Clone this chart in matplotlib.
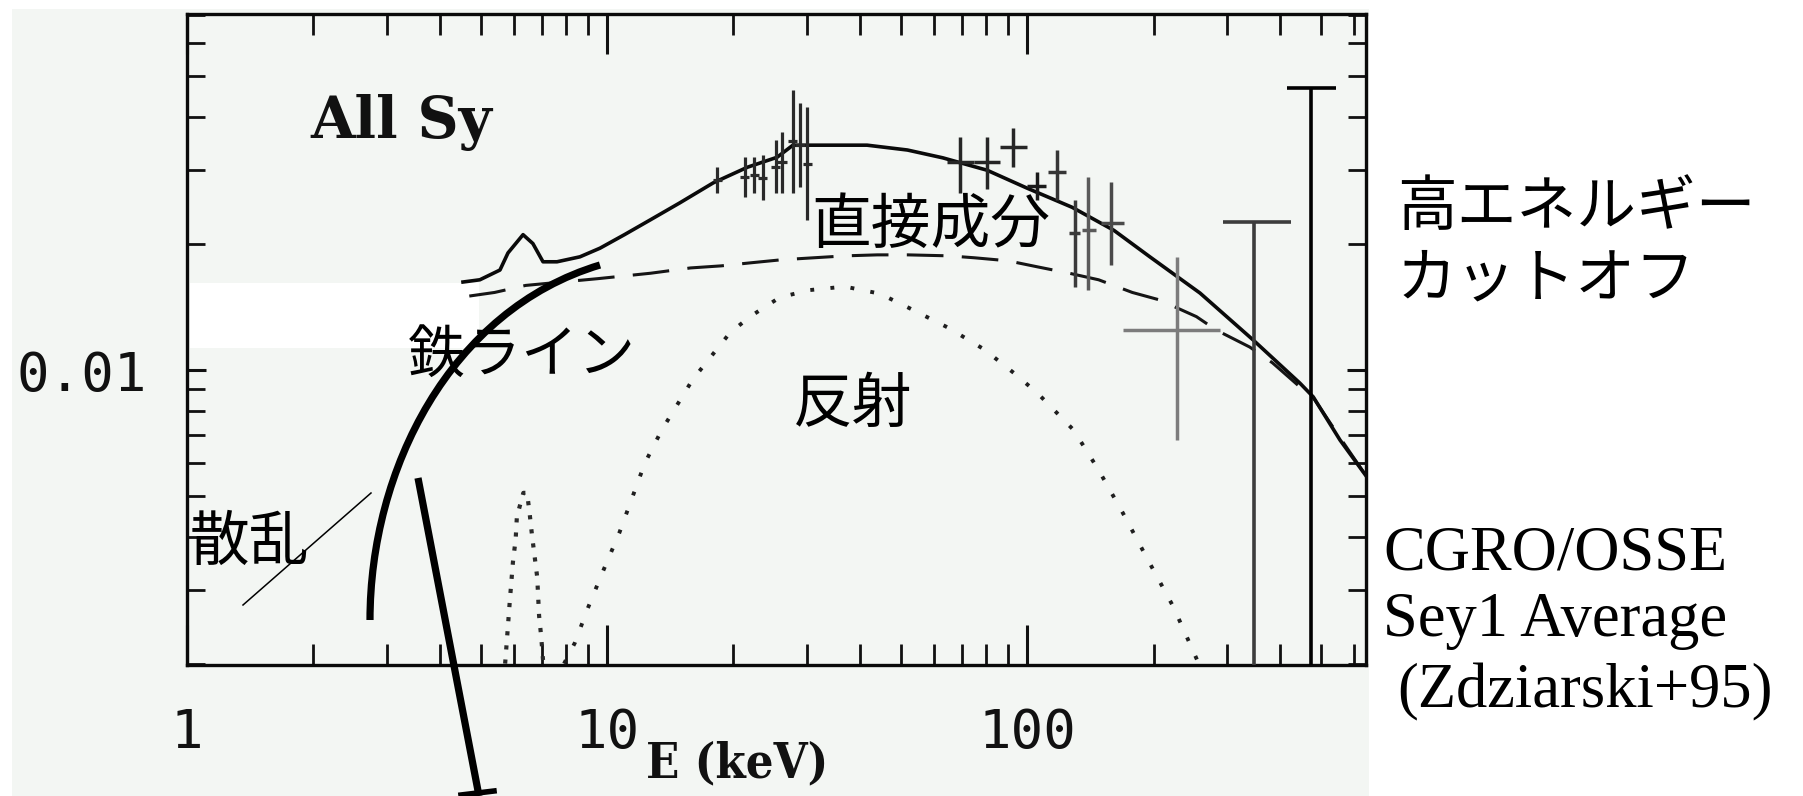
import matplotlib
matplotlib.use("Agg")
import matplotlib.pyplot as plt
from matplotlib.patches import Rectangle, PathPatch
from matplotlib.path import Path
from matplotlib.lines import Line2D
from matplotlib.ticker import FixedLocator, NullFormatter

W, H = 1803, 796

# ---------------- spectrum data (E in keV, E*F_E) ----------------
# total model
model_E = [4.54, 4.98, 5.56, 5.81, 6.31, 6.66, 7.04, 7.60, 8.62, 9.62, 11.0, 12.7,
           14.9, 17.9, 21.6, 25.4, 27.7, 30.4, 34.0, 41.6, 51.9, 63.0, 80.3, 100,
           128, 161, 196, 258, 345, 446, 480, 556, 641]
model_F = [0.0162, 0.0164, 0.0173, 0.0190, 0.0210, 0.0200, 0.0181, 0.0181, 0.0186,
           0.0195, 0.0210, 0.0228, 0.0250, 0.0279, 0.0304, 0.0321, 0.0343, 0.0343,
           0.0343, 0.0343, 0.0334, 0.0320, 0.0299, 0.0271, 0.0244, 0.0215, 0.0186,
           0.01525, 0.0118, 0.00931, 0.00863, 0.00681, 0.0056]

# direct (cut-off power law) component
direct_E = [4.7, 5.4, 6.4, 7.3, 9.5, 12.7, 15.8, 18.7, 22, 26, 31, 37, 44, 52, 65,
            75, 90, 106, 126, 148, 178, 206, 253, 282, 339, 384, 455, 480, 556, 641]
direct_F = [0.0150, 0.0153, 0.0159, 0.0161, 0.0165, 0.0170, 0.0175, 0.0177, 0.0180,
            0.0183, 0.0185, 0.0187, 0.0188, 0.0188, 0.0187, 0.0185, 0.0182, 0.0176,
            0.0170, 0.0164, 0.0153, 0.0147, 0.0134, 0.01245, 0.01134, 0.0104,
            0.00896, 0.0086, 0.0069, 0.0056]

# Compton reflection component
refl_E = [7.9, 8.38, 9.0, 9.77, 10.7, 12.3, 13.5, 16.0, 19.6, 21.9, 25.8, 30.4,
          36.8, 44.6, 52, 65, 79, 93, 106, 129, 148, 169, 194, 223, 254]
refl_F = [0.0020, 0.00224, 0.00271, 0.00331, 0.0041, 0.0060, 0.0072, 0.0095,
          0.01225, 0.0134, 0.0149, 0.0155, 0.0158, 0.0152, 0.0141, 0.0126, 0.0112,
          0.00984, 0.0088, 0.0072, 0.00578, 0.00457, 0.00353, 0.00273, 0.00204]

# Fe K line
line_E = [5.72, 5.87, 5.97, 6.06, 6.10, 6.32, 6.45, 6.54, 6.63, 6.82, 6.89, 6.97, 7.04]
line_F = [0.0020, 0.00283, 0.00349, 0.00396, 0.00447, 0.0051, 0.0051, 0.00457,
          0.00403, 0.00321, 0.0026, 0.00232, 0.00204]

# Ginga points
ginga_E = [18.3, 21.3, 22.4, 23.5, 25.2, 26.1, 27.7, 28.8, 30.0]
ginga_F = [0.0283, 0.0288, 0.0291, 0.0287, 0.0305, 0.0312, 0.0350, 0.0343, 0.0310]
ginga_lo = [0.0264, 0.0258, 0.0264, 0.0254, 0.0264, 0.0264, 0.0264, 0.0273, 0.0228]
ginga_hi = [0.0304, 0.0321, 0.0321, 0.0325, 0.0353, 0.0369, 0.0464, 0.0432, 0.0423]

# OSSE points
osse_E = [69.2, 80.3, 92.6, 105.6, 118, 130, 140, 158, 228]
osse_F = [0.0313, 0.0313, 0.0340, 0.0274, 0.0296, 0.0212, 0.0215, 0.0224, 0.01245]
osse_lo = [0.0264, 0.0270, 0.0304, 0.0254, 0.0254, 0.0158, 0.0155, 0.0178, 0.00681]
osse_hi = [0.0358, 0.0358, 0.0377, 0.0296, 0.0334, 0.0254, 0.0288, 0.0280, 0.0186]
osse_Elo = [64.4, 74.6, 86.3, 100, 112, 126, 135, 150, 169]
osse_Ehi = [74.6, 86.3, 100, 111, 124, 134, 146, 170, 288]
osse_shade = ['#262626', '#262626', '#262626', '#1a1a1a', '#363636',
              '#3a3a3a', '#5a5a5a', '#4a4a4a', '#7c7c7c']

# high-energy bins with only an upper end inside the frame
lim_E = [347, 474]
lim_top = [0.0225, 0.0469]
lim_Elo = [292, 415]
lim_Ehi = [424, 545]
lim_shade = ['#3c3c3c', '#000000']

x_major = [1, 10, 100]
x_major_labels = ['1', '10', '100']
x_minor = [2, 3, 4, 5, 6, 7, 8, 9, 20, 30, 40, 50, 60, 70, 80, 90,
           200, 300, 400, 500, 600]
y_major = [0.01]
y_major_labels = ['0.01']
y_minor = [0.002, 0.003, 0.004, 0.005, 0.006, 0.007, 0.008, 0.009,
           0.02, 0.03, 0.04, 0.05, 0.06, 0.07]

# ---------------- figure ----------------
fig = plt.figure(figsize=(W / 100, H / 100), dpi=100)
fig.patch.set_facecolor('white')


def fx(px):
    return px / W


def fy(py):
    return 1 - py / H


BG = '#f3f6f3'
fig.add_artist(Rectangle((fx(12), 0), fx(1369) - fx(12), fy(9),
                         transform=fig.transFigure, facecolor=BG,
                         edgecolor='none', zorder=-5))

ax = fig.add_axes([fx(187), fy(665), fx(1366) - fx(187), fy(14) - fy(665)])
ax.set_facecolor(BG)
ax.set_xscale('log')
ax.set_yscale('log')
ax.set_xlim(1, 641)
ax.set_ylim(0.001985, 0.0704)

# blank strip over the low-energy part of the frame
ax.add_patch(Rectangle((fx(190), fy(348)), fx(479) - fx(190), fy(283) - fy(348),
                       transform=fig.transFigure, facecolor='white',
                       edgecolor='none', zorder=1))

# model curves
ax.plot(model_E, model_F, color='#0a0a0a', lw=2.6, zorder=4)
ax.plot(direct_E, direct_F, color='#151515', lw=2.2, dashes=(12, 6), zorder=3)
ax.plot(refl_E, refl_F, color='#1e1e1e', lw=2.8, dashes=(1.0, 4.2), zorder=3)
ax.plot(line_E, line_F, color='#2a2a2a', lw=3.0, dashes=(1.0, 2.4), zorder=3)

# data
g_err = [[f - lo for f, lo in zip(ginga_F, ginga_lo)],
         [hi - f for f, hi in zip(ginga_F, ginga_hi)]]
ax.errorbar(ginga_E, ginga_F, yerr=g_err,
            xerr=[[e * 0.025 for e in ginga_E], [e * 0.025 for e in ginga_E]],
            fmt='none', ecolor='#2a2a2a', elinewidth=2.3, capsize=0, zorder=5)

for e, f, lo, hi, elo, ehi, c in zip(osse_E, osse_F, osse_lo, osse_hi,
                                     osse_Elo, osse_Ehi, osse_shade):
    ax.errorbar([e], [f], yerr=[[f - lo], [hi - f]], xerr=[[e - elo], [ehi - e]],
                fmt='none', ecolor=c, elinewidth=2.5, capsize=0, zorder=5)

for e, top, elo, ehi, c in zip(lim_E, lim_top, lim_Elo, lim_Ehi, lim_shade):
    ax.vlines(e, 0.0015, top, color=c, lw=2.6, zorder=5)
    ax.hlines(top, elo, ehi, color=c, lw=2.6, zorder=5)

# axes frame and ticks
for s in ax.spines.values():
    s.set_linewidth(2.4)
    s.set_color('#0a0a0a')

ax.xaxis.set_major_locator(FixedLocator(x_major))
ax.xaxis.set_minor_locator(FixedLocator(x_minor))
ax.xaxis.set_minor_formatter(NullFormatter())
ax.set_xticklabels(x_major_labels)
ax.yaxis.set_major_locator(FixedLocator(y_major))
ax.yaxis.set_minor_locator(FixedLocator(y_minor))
ax.yaxis.set_minor_formatter(NullFormatter())
ax.set_yticklabels(y_major_labels)

ax.tick_params(which='both', direction='in', top=True, right=True,
               color='#111111')
ax.tick_params(axis='x', which='major', length=29, width=2.2, pad=30)
ax.tick_params(axis='x', which='minor', length=15, width=2.0)
ax.tick_params(axis='y', which='major', length=14, width=2.2, pad=29)
ax.tick_params(axis='y', which='minor', length=13, width=2.0)
for lab in ax.get_xticklabels() + ax.get_yticklabels():
    lab.set_fontfamily('DejaVu Sans Mono')
    lab.set_fontsize(39)
    lab.set_color('#111111')

# labels inside / around the frame
fig.text(fx(310), fy(138), 'All Sy', family='DejaVu Serif',
         fontweight='bold', fontsize=41, color='#111111', va='baseline', ha='left')
fig.text(fx(646), fy(777), 'E (keV)', family='DejaVu Serif', fontstretch='condensed',
         fontweight='bold', fontsize=35, color='#111111', va='baseline', ha='left')

JP = ['Noto Sans CJK JP', 'DejaVu Sans']
jp_kw = dict(family=JP, color='black', va='center', ha='left', zorder=10)
fig.text(fx(811), fy(226), '直接成分', fontsize=43, **jp_kw)
fig.text(fx(408), fy(356), '鉄ライン', fontsize=41, **jp_kw)
fig.text(fx(793), fy(405), '反射', fontsize=43, **jp_kw)
fig.text(fx(190), fy(543), '散乱', fontsize=43, **jp_kw)
fig.text(fx(1397), fy(209), '高エネルギー', fontsize=43, **jp_kw)
fig.text(fx(1397), fy(280), 'カットオフ', fontsize=43, **jp_kw)

ser_kw = dict(family='Liberation Serif', color='black', va='baseline', ha='left',
              fontsize=45)
fig.text(fx(1383), fy(569), 'CGRO/OSSE', **ser_kw)
fig.text(fx(1383), fy(636), 'Sey1 Average', **ser_kw)
fig.text(fx(1397), fy(707), '(Zdziarski+95)', **ser_kw)

# annotation strokes
arc = Path([(fx(370), fy(620)), (fx(370), fy(470)), (fx(450), fy(310)),
            (fx(600), fy(265))],
           [Path.MOVETO, Path.CURVE4, Path.CURVE4, Path.CURVE4])
fig.add_artist(PathPatch(arc, fill=False, lw=5.2, edgecolor='black',
                         capstyle='butt', transform=fig.transFigure, zorder=8))
fig.add_artist(Line2D([fx(418), fx(479)], [fy(478), fy(796)], lw=5.2,
                      color='black', solid_capstyle='butt',
                      transform=fig.transFigure, zorder=8))
fig.add_artist(Line2D([fx(461), fx(494)], [fy(795), fy(791)], lw=4,
                      color='black', transform=fig.transFigure, zorder=8))
fig.add_artist(Line2D([fx(243), fx(371)], [fy(605), fy(493)], lw=1.1,
                      color='black', transform=fig.transFigure, zorder=8))

fig.savefig('out.png', dpi=100, facecolor='white')
